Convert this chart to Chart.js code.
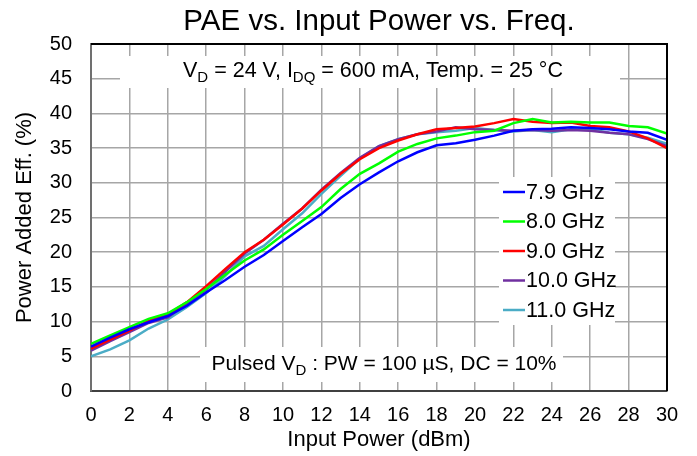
<!DOCTYPE html>
<html>
<head>
<meta charset="utf-8">
<script src="https://cdn.jsdelivr.net/npm/chart.js@4.4.1/dist/chart.umd.min.js"></script>
<style>
  html, body { margin: 0; padding: 0; background: #ffffff; }
  #wrap { width: 697px; height: 456px; }
</style>
</head>
<body>
<div id="wrap"><canvas id="c" width="697" height="456"></canvas></div>
<script>
// ---- data ----
const inputPower = [0,1,2,3,4,5,6,7,8,9,10,11,12,13,14,15,16,17,18,19,20,21,22,23,24,25,26,27,28,29,30];
const pae_7_9GHz = [6.4,7.7,8.9,9.9,10.8,12.3,14.2,16.0,17.9,19.6,21.6,23.6,25.5,27.8,29.8,31.5,33.1,34.4,35.4,35.7,36.2,36.8,37.5,37.7,37.8,38.0,37.9,37.7,37.4,37.2,36.2];
const pae_8_0GHz = [6.8,8.0,9.2,10.4,11.2,12.8,14.7,16.8,18.8,20.4,22.5,24.5,26.5,29.1,31.3,32.8,34.5,35.6,36.4,36.8,37.3,37.5,38.6,39.2,38.7,38.8,38.7,38.7,38.2,38.0,37.1];
const pae_9_0GHz = [6.1,7.4,8.7,10.1,11.0,12.8,15.1,17.6,20.0,21.8,24.0,26.3,28.9,31.3,33.4,35.0,36.1,37.0,37.7,37.9,38.1,38.6,39.2,38.8,38.6,38.7,38.2,38.0,37.4,36.4,35.0];
const pae_10_0GHz = [5.8,7.2,8.5,9.8,10.6,12.6,14.6,17.2,19.8,21.8,24.1,26.3,29.0,31.4,33.6,35.3,36.3,37.0,37.4,38.0,37.7,37.6,37.5,37.6,37.5,37.6,37.5,37.2,37.0,36.3,35.3];
const pae_11_0GHz = [5.0,6.0,7.3,9.0,10.3,12.1,14.1,16.6,19.4,20.9,23.3,25.6,28.4,31.0,33.5,35.3,36.3,37.0,37.3,37.5,37.9,37.6,37.4,37.6,37.3,37.7,37.7,37.2,37.0,36.5,35.6];
const seriesLabels = ['7.9 GHz','8.0 GHz','9.0 GHz','10.0 GHz','11.0 GHz'];
const seriesValues = [pae_7_9GHz, pae_8_0GHz, pae_9_0GHz, pae_10_0GHz, pae_11_0GHz];
const xTickMin = 0, xTickMax = 30, xTickStep = 2;
const yTickMin = 0, yTickMax = 50, yTickStep = 5;
const titleText = 'PAE vs. Input Power vs. Freq.';
const xTitle = 'Input Power (dBm)';
const yTitle = 'Power Added Eff. (%)';

// ---- styles ----
const colors = ['#0000ff', '#00ff00', '#ff0000', '#7030a0', '#4bacc6'];
const FONT = '"Liberation Sans", Arial, Helvetica, sans-serif';
const gridColor = '#a6a6a6';

const datasets = seriesValues.map((vals, i) => ({
  label: seriesLabels[i],
  data: inputPower.map((x, k) => ({x: x, y: vals[k]})),
  borderColor: colors[i],
  backgroundColor: colors[i],
  borderWidth: 2.5,
  pointRadius: 0,
  tension: 0,
  fill: false
}));

function drawRich(ctx, parts, cx, cy, size, subSize) {
  let w = 0;
  parts.forEach(p => {
    ctx.font = (p.sub ? subSize : size) + 'px ' + FONT;
    w += ctx.measureText(p.t).width;
  });
  let x = cx - w / 2;
  ctx.textBaseline = 'middle';
  ctx.textAlign = 'left';
  ctx.fillStyle = '#000';
  parts.forEach(p => {
    ctx.font = (p.sub ? subSize : size) + 'px ' + FONT;
    ctx.fillText(p.t, x, p.sub ? cy + 7 : cy);
    x += ctx.measureText(p.t).width;
  });
}

const overlayPlugin = {
  id: 'overlay',
  beforeDatasetsDraw(chart) {
    const ctx = chart.ctx;
    ctx.save();
    ctx.fillStyle = '#ffffff';
    ctx.fillRect(120, 56, 500, 32);   // top note box
    ctx.fillRect(200, 347, 363, 35);  // bottom note box
    ctx.fillRect(499, 177, 116, 148); // legend box
    ctx.restore();
  },
  afterDatasetsDraw(chart) {
    const ctx = chart.ctx;
    const a = chart.chartArea;
    ctx.save();
    // frame: top/right black
    ctx.strokeStyle = '#000';
    ctx.lineWidth = 2;
    ctx.beginPath();
    ctx.moveTo(a.left, a.top);
    ctx.lineTo(a.right, a.top);
    ctx.lineTo(a.right, a.bottom);
    ctx.stroke();
    // notes
    drawRich(ctx, [
      {t: 'V'}, {t: 'D', sub: true}, {t: ' = 24 V, I'}, {t: 'DQ', sub: true},
      {t: ' = 600 mA, Temp. = 25 °C'}
    ], 373, 71, 21.5, 15);
    drawRich(ctx, [
      {t: 'Pulsed V'}, {t: 'D', sub: true}, {t: ' : PW = 100 µS, DC = 10%'}
    ], 384, 364, 21, 15);
    // legend
    const lx0 = 503, lx1 = 525, ly0 = 192, ldy = 29.5;
    seriesLabels.forEach((lab, i) => {
      const y = ly0 + i * ldy;
      ctx.strokeStyle = colors[i];
      ctx.lineWidth = 2.5;
      ctx.beginPath();
      ctx.moveTo(lx0, y);
      ctx.lineTo(lx1, y);
      ctx.stroke();
      ctx.fillStyle = '#000';
      ctx.font = '21.5px ' + FONT;
      ctx.textAlign = 'left';
      ctx.textBaseline = 'middle';
      ctx.fillText(lab, lx1 + 1, y + 1);
    });
    ctx.restore();
  }
};

new Chart(document.getElementById('c'), {
  type: 'line',
  data: { datasets: datasets },
  plugins: [overlayPlugin],
  options: {
    responsive: false,
    animation: false,
    devicePixelRatio: 1,
    layout: { padding: { left: 0, right: 30, top: 0, bottom: 0 } },
    plugins: {
      legend: { display: false },
      tooltip: { enabled: false },
      title: {
        display: true,
        fullSize: false,
        text: titleText,
        color: '#000',
        font: { family: FONT, size: 29.5, weight: 'normal', lineHeight: 1.2 },
        padding: { top: 4, bottom: 4.6 }
      }
    },
    scales: {
      x: {
        type: 'linear',
        min: xTickMin, max: xTickMax,
        afterFit(s) { s.height = 65; },
        ticks: { stepSize: xTickStep, color: '#000', padding: 12, maxRotation: 0,
                 font: { family: FONT, size: 20 } },
        grid: { color: gridColor, lineWidth: 1.5, drawTicks: false },
        border: { display: true, color: '#404040', width: 2 },
        title: { display: true, text: xTitle, color: '#000',
                 font: { family: FONT, size: 22 }, padding: { top: 0, bottom: 3 } }
      },
      y: {
        min: yTickMin, max: yTickMax,
        afterFit(s) { s.width = 91; },
        ticks: { stepSize: yTickStep, color: '#000', padding: 19,
                 font: { family: FONT, size: 20 } },
        grid: { color: gridColor, lineWidth: 1.5, drawTicks: false },
        border: { display: true, color: '#707070', width: 2 },
        title: { display: true, text: yTitle, color: '#000',
                 font: { family: FONT, size: 22 }, padding: { top: 12, bottom: 0 } }
      }
    }
  }
});
</script>
</body>
</html>
